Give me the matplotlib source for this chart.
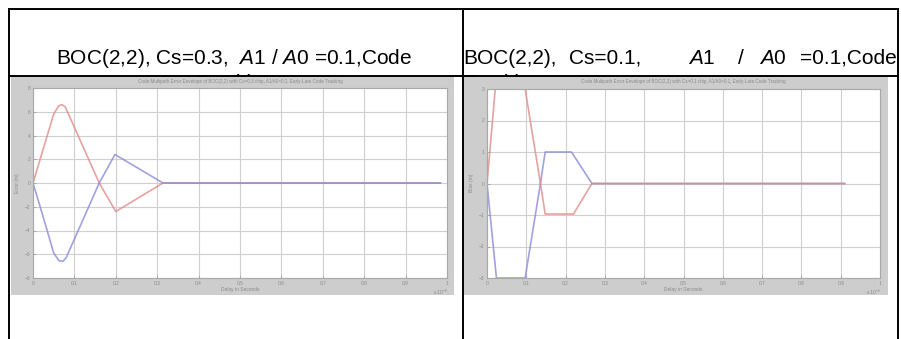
import matplotlib
matplotlib.use("Agg")
import matplotlib.pyplot as plt
from matplotlib.lines import Line2D
from matplotlib.patches import Rectangle

plt.rcParams['font.family'] = ['Liberation Sans', 'DejaVu Sans']
plt.rcParams['mathtext.fontset'] = 'custom'
plt.rcParams['mathtext.it'] = 'Liberation Sans:italic'
plt.rcParams['mathtext.rm'] = 'Liberation Sans'

W, H = 901, 339

# multipath delay in units of 1e-6 s, envelope error in m
x_cs03_red = [0, 0.025, 0.05, 0.062, 0.07, 0.078, 0.16, 0.2, 0.314, 0.984]
y_cs03_red = [0, 2.9, 5.8, 6.5, 6.6, 6.4, 0, -2.4, 0, 0]
x_cs03_blue = [0, 0.025, 0.05, 0.063, 0.072, 0.08, 0.16, 0.198, 0.314, 0.984]
y_cs03_blue = [0, -2.9, -5.9, -6.55, -6.6, -6.3, 0, 2.4, 0, 0]

x_cs01_red = [0, 0.021, 0.097, 0.136, 0.148, 0.22, 0.267, 0.91]
y_cs01_red = [0, 3, 3, 0, -0.97, -0.97, 0, 0]
x_cs01_blue = [0, 0.024, 0.097, 0.136, 0.148, 0.215, 0.267, 0.91]
y_cs01_blue = [0, -3, -3, 0, 1.0, 1.0, 0, 0]

xticks = [0, 0.1, 0.2, 0.3, 0.4, 0.5, 0.6, 0.7, 0.8, 0.9, 1.0]
yticks_left = [-8, -6, -4, -2, 0, 2, 4, 6, 8]
yticks_right = [-3, -2, -1, 0, 1, 2, 3]

left_heading = "BOC(2,2), Cs=0.3,  $\\mathit{A}$1 / $\\mathit{A}$0 =0.1,Code"
# right heading is justified across its cell
right_words = ["BOC(2,2),", "Cs=0.1,", "$\\mathit{A}$1", "/", "$\\mathit{A}$0",
               "=0.1,Code"]
right_word_x = [463, 569, 688, 738, 759, 897]

inner_titles = ["Code Multipath Error Envelope of BOC(2,2) with Cs=0.3 chip, A1/A0=0.1, Early-Late Code Tracking",
                "Code Multipath Error Envelope of BOC(2,2) with Cs=0.1 chip, A1/A0=0.1, Early-Late Code Tracking"]
ylabels = ["Error (m)", "Bias (m)"]
xlabel = "Delay in Seconds"

FS = 15


def frac(x0, y0, x1, y1):
    return [x0 / W, 1 - y1 / H, (x1 - x0) / W, (y1 - y0) / H]


def fx(x):
    return x / W


def fy(y):
    return 1 - y / H


fig = plt.figure(figsize=(W / 100, H / 100), dpi=100)

# wrapped second line of each heading, hidden under the plots
fig.text(fx(235.5), fy(89), "Tracking", ha='center', va='baseline',
         fontsize=FS, zorder=0.5)
fig.text(fx(463), fy(89), "Tracking", ha='left', va='baseline',
         fontsize=FS, zorder=0.5)

fig.text(fx(234), fy(63.5), left_heading, ha='center', va='baseline',
         fontsize=FS)
for k, (xp, word) in enumerate(zip(right_word_x, right_words)):
    fig.text(fx(xp), fy(63.5), word, va='baseline', fontsize=FS,
             ha='right' if k == len(right_words) - 1 else 'left')

# gray panels behind each plot
for x0, x1 in [(10.5, 454), (463.5, 888)]:
    fig.add_artist(Rectangle((fx(x0), fy(295)), (x1 - x0) / W, (295 - 77) / H,
                             transform=fig.transFigure, facecolor='#cdcdcd',
                             edgecolor='none', zorder=1))

# table borders
border = dict(color='black', lw=1.4, zorder=4, solid_capstyle='butt')
fig.add_artist(Line2D([fx(8), fx(899)], [fy(9), fy(9)], **border))
fig.add_artist(Line2D([fx(9), fx(898)], [fy(76), fy(76)], **border))
for xv in [9, 462.5, 898]:
    fig.add_artist(Line2D([fx(xv), fx(xv)], [fy(8.5), fy(339)], **border))

panels = [
    dict(rect=frac(33, 88, 447, 278), xr=x_cs03_red, yr=y_cs03_red,
         xb=x_cs03_blue, yb=y_cs03_blue, yticks=yticks_left, ylim=(-8, 8),
         ylab_x=17, title_x=240, exp_x=440),
    dict(rect=frac(487, 89, 880, 278), xr=x_cs01_red, yr=y_cs01_red,
         xb=x_cs01_blue, yb=y_cs01_blue, yticks=yticks_right, ylim=(-3, 3),
         ylab_x=471, title_x=683, exp_x=873),
]

for i, p in enumerate(panels):
    ax = fig.add_axes(p['rect'], zorder=2)
    ax.set_facecolor('white')
    if i == 0:
        ax.plot(p['xr'], p['yr'], color='#e08a8a', lw=1.2, alpha=0.8)
        ax.plot(p['xb'], p['yb'], color='#8a8ad8', lw=1.2, alpha=0.8)
    else:
        ax.plot(p['xb'], p['yb'], color='#8a8ad8', lw=1.2, alpha=0.8)
        ax.plot(p['xr'], p['yr'], color='#e08a8a', lw=1.2, alpha=0.8)
    ax.set_xlim(0, 1.0)
    ax.set_ylim(*p['ylim'])
    ax.set_xticks(xticks)
    ax.set_yticks(p['yticks'])
    ax.set_xticklabels([f"{t:g}" for t in xticks])
    ax.grid(True, color='#cfcfcf', lw=0.8)
    ax.tick_params(direction='in', length=2, width=0.5, colors='#999999',
                   labelsize=3.5, labelcolor='#8a8a8a', pad=2)
    for s in ax.spines.values():
        s.set_color('#a8a8a8')
        s.set_linewidth(0.8)

    fig.text(fx(p['title_x']), fy(81.5), inner_titles[i], ha='center',
             va='center', fontsize=3.3, color='#8a8a8a', zorder=3)
    fig.text(fx(p['title_x']), fy(289), xlabel, ha='center', va='center',
             fontsize=3.5, color='#8a8a8a', zorder=3)
    fig.text(fx(p['ylab_x']), fy(183), ylabels[i], ha='center', va='center',
             rotation=90, fontsize=3.5, color='#8a8a8a', zorder=3)
    fig.text(fx(p['exp_x']), fy(292), "x 10$^{-6}$", ha='center',
             va='center', fontsize=3.5, color='#8a8a8a', zorder=3)

fig.savefig("out.png", dpi=100, facecolor='white')
